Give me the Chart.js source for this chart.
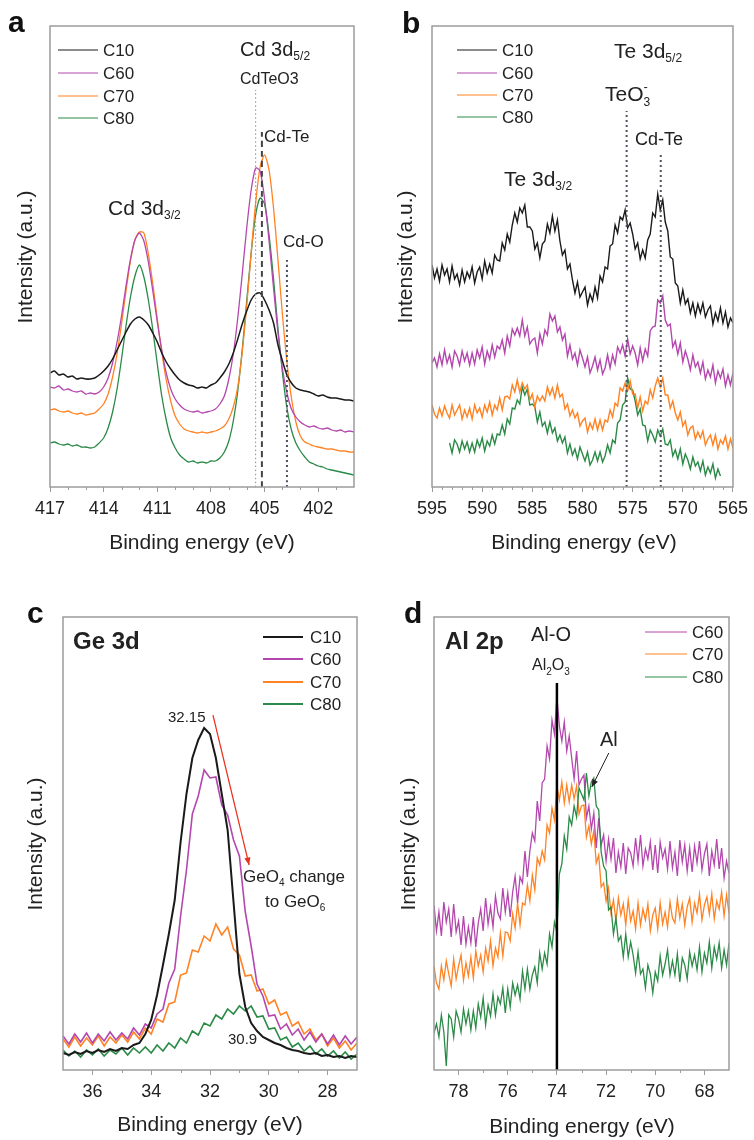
<!DOCTYPE html>
<html>
<head>
<meta charset="utf-8">
<script src="https://cdn.jsdelivr.net/npm/chart.js@4.4.0/dist/chart.umd.min.js"></script>
<style>
  body { margin: 0; background: #fff; width: 754px; height: 1140px; position: relative; overflow: hidden; }
  canvas { position: absolute; }
</style>
</head>
<body>
<canvas id="chartA" width="377" height="560" style="left:0;top:0"></canvas>
<canvas id="chartB" width="377" height="560" style="left:377px;top:0"></canvas>
<canvas id="chartC" width="377" height="580" style="left:0;top:560px"></canvas>
<canvas id="chartD" width="377" height="580" style="left:377px;top:560px"></canvas>
<script>
// ---- panel a: Cd 3d ----
const aEnergy = [417,416.75,416.5,416.25,416,415.75,415.5,415.25,415,414.75,414.5,414.25,414,413.75,413.5,413.25,413,412.75,412.5,412.25,412,411.75,411.5,411.25,411,410.75,410.5,410.25,410,409.75,409.5,409.25,409,408.75,408.5,408.25,408,407.75,407.5,407.25,407,406.75,406.5,406.25,406,405.75,405.5,405.25,405,404.75,404.5,404.25,404,403.75,403.5,403.25,403,402.75,402.5,402.25,402,401.75,401.5,401.25,401,400.75,400.5,400.25,400];
const aC10 = [114,116,112,113,110,111,108,109,108,108,109,112,116,121,128,137,146,155,163,168,170,167,162,154,145,134,125,118,112,107,104,102,101,99,100,99,102,104,109,115,123,134,148,163,176,187,193,194,187,177,164,142,126,112,104,99,97,96,95,93,91,92,90,89,89,88,87,87,86];
const aC60 = [100,99,101,97,98,96,95,96,93,94,93,95,100,109,124,145,171,201,228,247,254,246,225,196,165,137,114,98,88,82,78,76,75,76,74,75,76,78,83,91,108,133,169,213,259,297,319,316,288,246,199,154,118,94,78,70,65,62,60,61,59,58,59,57,56,57,55,56,55];
const aC70 = [77,78,76,75,76,74,73,74,72,73,74,78,83,93,110,133,163,196,226,247,255,254,233,203,168,135,107,86,71,63,58,56,55,54,55,54,55,56,58,61,68,80,100,135,181,234,284,320,332,317,279,227,172,125,89,65,51,45,43,41,40,39,38,38,37,36,36,35,35];
const aC80 = [44,45,43,42,43,41,42,40,40,39,40,44,49,59,75,98,128,161,190,211,222,210,187,157,123,91,67,49,39,32,28,25,26,24,25,24,26,26,29,35,46,66,96,137,186,234,272,289,283,252,208,158,114,79,57,44,36,30,25,23,21,20,18,17,16,15,14,13,12];
const aMajorTicks = [417, 414, 411, 408, 405, 402];
const aMinorTicks = [416, 415, 413, 412, 410, 409, 407, 406, 404, 403, 401];
const aRefEnergy = [405.5, 405.15, 403.75];   // CdTeO3, Cd-Te, Cd-O
const aRefTop = [397, 355, 230];

// ---- panel b: Te 3d ----
const bEnergy = [595,594.75,594.5,594.25,594,593.75,593.5,593.25,593,592.75,592.5,592.25,592,591.75,591.5,591.25,591,590.75,590.5,590.25,590,589.75,589.5,589.25,589,588.75,588.5,588.25,588,587.75,587.5,587.25,587,586.75,586.5,586.25,586,585.75,585.5,585.25,585,584.75,584.5,584.25,584,583.75,583.5,583.25,583,582.75,582.5,582.25,582,581.75,581.5,581.25,581,580.75,580.5,580.25,580,579.75,579.5,579.25,579,578.75,578.5,578.25,578,577.75,577.5,577.25,577,576.75,576.5,576.25,576,575.75,575.5,575.25,575,574.75,574.5,574.25,574,573.75,573.5,573.25,573,572.75,572.5,572.25,572,571.75,571.5,571.25,571,570.75,570.5,570.25,570,569.75,569.5,569.25,569,568.75,568.5,568.25,568,567.75,567.5,567.25,567,566.75,566.5,566.25,566,565.75,565.5,565.25,565];
const bC10 = [222,209,218,206,222,212,218,205,221,208,213,202,217,205,215,209,220,204,215,220,208,226,214,223,214,232,227,226,244,237,253,245,262,274,265,279,274,282,260,260,256,238,244,229,243,246,263,254,271,256,267,246,232,237,218,223,207,194,205,190,195,200,182,193,186,200,189,211,205,220,218,241,243,262,254,270,267,277,259,264,253,238,244,228,237,229,247,253,274,270,293,277,287,265,256,230,228,204,201,184,197,183,188,174,184,171,183,174,184,170,177,181,163,174,166,179,164,175,160,169,164];
const bC60 = [124,129,120,133,122,137,124,132,120,136,131,122,136,126,134,122,134,123,137,129,140,123,136,128,142,130,141,138,147,134,151,141,158,152,159,151,167,151,160,143,147,149,134,153,143,157,152,173,166,171,155,160,147,153,131,142,128,134,122,137,129,120,130,114,121,130,117,127,113,119,132,119,132,123,140,134,142,131,148,133,141,134,122,139,126,138,131,156,160,161,187,184,191,167,161,163,140,146,133,144,125,136,128,117,132,120,125,114,125,108,117,110,122,104,116,109,118,101,112,102,114];
const bC70 = [82,73,69,79,71,81,74,69,82,72,77,82,68,77,70,79,68,82,74,79,70,82,75,85,72,82,77,89,77,90,91,88,102,95,107,95,104,98,102,87,93,80,91,86,91,86,100,92,99,89,102,90,93,78,83,71,77,69,74,61,66,69,55,64,58,68,57,67,57,67,65,77,70,84,81,99,96,104,96,106,93,93,79,90,76,86,83,97,89,101,109,100,109,92,92,79,86,74,67,75,61,66,52,59,61,48,55,49,56,42,48,52,42,52,38,47,43,51,38,48,39];
const bC80 = [null,null,null,null,null,null,null,44,34,47,43,35,46,38,45,35,44,35,47,40,49,36,46,41,52,43,53,52,62,53,68,63,79,78,87,83,100,92,98,82,83,80,65,75,61,65,54,65,54,59,46,52,44,50,34,43,32,38,28,40,33,26,35,22,27,35,26,35,25,31,42,34,47,44,64,67,82,85,109,98,97,86,72,78,62,61,46,57,52,45,57,51,58,43,42,47,31,37,28,38,23,33,27,18,30,21,25,16,26,12,20,14,23,9,18,11,null,null,null,null,null];
const bMajorTicks = [595, 590, 585, 580, 575, 570, 565];
const bMinorTicks = [594,593,592,591,589,588,587,586,584,583,582,581,579,578,577,576,574,573,572,571,569,568,567,566];
const bRefEnergy = [575.6, 572.2];   // TeO3-, Cd-Te
const bRefTop = [376, 335];

// ---- panel c: Ge 3d ----
const cEnergy = [37,36.8,36.6,36.4,36.2,36,35.8,35.6,35.4,35.2,35,34.8,34.6,34.4,34.2,34,33.8,33.6,33.4,33.2,33,32.8,32.6,32.4,32.2,32,31.8,31.6,31.4,31.2,31,30.8,30.6,30.4,30.2,30,29.8,29.6,29.4,29.2,29,28.8,28.6,28.4,28.2,28,27.8,27.6,27.4,27.2,27];
const cC10 = [17,15,18,16,19,17,20,18,21,19,22,21,25,27,36,50,75,105,136,170,228,276,312,330,342,336,312,276,240,168,96,63,47,39,33,30,27,25,22,20,19,17,16,17,14,15,13,14,12,14,13];
const cC60 = [34,26,36,28,37,27,36,29,38,30,37,31,42,35,46,42,56,61,87,101,154,200,256,274,300,292,293,265,255,230,214,158,124,86,74,54,55,41,46,35,41,30,38,28,36,26,35,25,34,26,33];
const cC70 = [31,23,33,24,32,25,34,24,33,27,35,28,38,31,42,36,51,48,66,68,95,97,120,118,134,129,146,135,143,121,115,94,95,79,81,66,70,55,58,44,48,36,41,30,36,24,32,22,29,20,27];
const cC80 = [20,14,19,13,20,15,21,14,20,16,22,15,22,17,23,17,25,19,27,22,32,27,39,35,47,44,55,51,61,56,64,59,64,53,54,41,42,30,33,23,27,19,24,16,21,14,19,12,18,11,16];
const cMajorTicks = [36, 34, 32, 30, 28];
const cMinorTicks = [35, 33, 31, 29];
const cArrow = [[31.9, 355], [30.67, 205]];

// ---- panel d: Al 2p ----
const dEnergy = [79,78.9,78.8,78.7,78.6,78.5,78.4,78.3,78.2,78.1,78,77.9,77.8,77.7,77.6,77.5,77.4,77.3,77.2,77.1,77,76.9,76.8,76.7,76.6,76.5,76.4,76.3,76.2,76.1,76,75.9,75.8,75.7,75.6,75.5,75.4,75.3,75.2,75.1,75,74.9,74.8,74.7,74.6,74.5,74.4,74.3,74.2,74.1,74,73.9,73.8,73.7,73.6,73.5,73.4,73.3,73.2,73.1,73,72.9,72.8,72.7,72.6,72.5,72.4,72.3,72.2,72.1,72,71.9,71.8,71.7,71.6,71.5,71.4,71.3,71.2,71.1,71,70.9,70.8,70.7,70.6,70.5,70.4,70.3,70.2,70.1,70,69.9,69.8,69.7,69.6,69.5,69.4,69.3,69.2,69.1,69,68.9,68.8,68.7,68.6,68.5,68.4,68.3,68.2,68.1,68,67.9,67.8,67.7,67.6,67.5,67.4,67.3,67.2,67.1,67];
const dC60 = [165,139,158,134,168,148,161,133,166,138,149,125,154,126,143,127,153,123,147,161,139,172,146,163,143,174,157,151,182,158,177,153,178,194,167,193,187,219,193,219,237,229,269,249,287,291,324,311,350,336,373,344,329,348,319,334,312,291,319,285,291,295,252,264,241,257,222,252,225,235,209,231,211,232,197,218,203,227,196,222,217,204,232,209,235,204,221,211,228,200,225,197,228,212,221,201,229,202,218,194,230,208,225,199,222,198,224,207,229,200,216,226,194,219,205,231,201,222,192,209,197];
const dC70 = [104,87,81,104,90,109,96,84,111,91,104,115,90,107,94,113,92,119,104,115,98,122,109,129,104,122,113,137,114,138,137,129,156,142,167,145,167,165,185,169,195,180,212,205,219,210,245,237,262,250,284,270,288,267,285,268,285,271,284,256,264,265,233,244,226,239,207,215,183,187,169,182,157,170,149,172,155,166,145,170,149,159,141,167,145,161,150,166,139,155,162,141,167,146,158,143,168,152,147,171,152,166,145,163,172,148,167,157,176,150,165,173,156,176,151,169,161,178,154,175,157];
const dC80 = [37,46,33,55,38,4,55,51,33,59,51,38,61,46,59,40,59,42,66,53,72,45,65,54,76,55,73,66,82,57,81,63,87,75,85,71,99,81,101,81,95,103,87,117,101,117,106,136,123,148,138,196,206,234,221,253,245,264,253,282,276,270,297,274,288,292,264,260,218,204,199,160,163,136,152,129,134,113,136,113,128,115,97,118,96,101,82,105,96,77,98,89,114,95,106,120,95,109,95,116,88,112,105,91,118,104,115,100,123,98,117,107,128,102,123,111,127,102,120,105,127];
const dMajorTicks = [78, 76, 74, 72, 70, 68];
const dMinorTicks = [77, 75, 73, 71, 69];
const dRefEnergy = 74.0;   // Al-O / Al2O3
const dRefTop = 387;
const dArrow = [[71.89, 317], [72.58, 283]];

const FONT = '"Liberation Sans", Arial, Helvetica, sans-serif';
const TEXT = '#222';
const GREY = '#9c9c9c';
const COL = { C10: '#1a1a1a', C60: '#b447ae', C70: '#ff8223', C80: '#2b8a47' };

function series(xs, ys, color, width, order) {
    return {
        data: xs.map((x, i) => ({ x: x, y: ys[i] })).filter(pt => pt.y !== null),
        borderColor: color, borderWidth: width, pointRadius: 0, fill: false, order: order
    };
}

function vline(x, top, color, width, dash) {
    return {
        data: [{ x: x, y: 0 }, { x: x, y: top }],
        borderColor: color, borderWidth: width, borderDash: dash, pointRadius: 0, fill: false, order: 0
    };
}

function segment(pts, color, width) {
    return {
        data: pts.map(p => ({ x: p[0], y: p[1] })),
        borderColor: color, borderWidth: width, pointRadius: 0, fill: false, order: 0
    };
}

// draw a run of text pieces (for sub/superscripts)
function drawRich(ctx, x, y, parts) {
    let cx = x;
    parts.forEach(p => {
        ctx.font = (p.bold ? 'bold ' : '') + p.size + 'px ' + FONT;
        ctx.fillText(p.t, cx, y + (p.dy || 0));
        if (!p.stay) cx += ctx.measureText(p.t).width;
    });
}

function decor(p) {
    return {
        id: 'decor',
        afterDraw(chart) {
            const ctx = chart.ctx;
            const area = chart.chartArea;
            const xs = chart.scales.x, ys = chart.scales.y;
            ctx.save();
            ctx.strokeStyle = GREY;
            ctx.lineWidth = 1.5;
            ctx.strokeRect(area.left, area.top, area.right - area.left, area.bottom - area.top);
            ctx.lineWidth = 1;
            p.minorTicks.forEach(v => {
                const px = Math.round(xs.getPixelForValue(v)) + 0.5;
                ctx.beginPath();
                ctx.moveTo(px, area.bottom);
                ctx.lineTo(px, area.bottom + 3);
                ctx.stroke();
            });

            // arrowheads
            (p.arrows || []).forEach(a => {
                const x0 = xs.getPixelForValue(a.pts[0][0]), y0 = ys.getPixelForValue(a.pts[0][1]);
                const x1 = xs.getPixelForValue(a.pts[1][0]), y1 = ys.getPixelForValue(a.pts[1][1]);
                const ang = Math.atan2(y1 - y0, x1 - x0);
                ctx.fillStyle = a.color;
                ctx.beginPath();
                ctx.moveTo(x1, y1);
                ctx.lineTo(x1 - 8 * Math.cos(ang - 0.4), y1 - 8 * Math.sin(ang - 0.4));
                ctx.lineTo(x1 - 8 * Math.cos(ang + 0.4), y1 - 8 * Math.sin(ang + 0.4));
                ctx.closePath();
                ctx.fill();
            });

            // legend
            const lg = p.legend;
            ctx.textBaseline = 'middle';
            ctx.textAlign = 'left';
            lg.items.forEach((it, i) => {
                const y = lg.rows[i];
                ctx.strokeStyle = it[1];
                ctx.lineWidth = lg.width;
                ctx.beginPath();
                ctx.moveTo(lg.x0, y);
                ctx.lineTo(lg.x1, y);
                ctx.stroke();
                ctx.fillStyle = TEXT;
                ctx.font = '17px ' + FONT;
                ctx.fillText(it[0], lg.tx, y + 1);
            });

            // labels
            ctx.fillStyle = TEXT;
            p.texts.forEach(t => drawRich(ctx, t.x, t.y, t.parts));

            // panel letter
            ctx.textBaseline = 'alphabetic';
            ctx.font = 'bold 30px ' + FONT;
            ctx.fillStyle = '#111';
            ctx.fillText(p.letter[0], p.letter[1], p.letter[2]);

            // axis titles
            ctx.fillStyle = TEXT;
            ctx.font = '21px ' + FONT;
            ctx.textAlign = 'center';
            ctx.textBaseline = 'middle';
            ctx.fillText('Binding energy (eV)', p.xTitle[0], p.xTitle[1]);
            ctx.translate(p.yTitle[0], p.yTitle[1]);
            ctx.rotate(-Math.PI / 2);
            ctx.fillText('Intensity (a.u.)', 0, 0);
            ctx.restore();
        }
    };
}

function makePanel(id, p) {
    return new Chart(document.getElementById(id), {
        type: 'line',
        data: { datasets: p.datasets },
        options: {
            responsive: false,
            animation: false,
            events: [],
            spanGaps: false,
            layout: { padding: { left: p.area.left, top: p.area.top, right: p.width - p.area.right, bottom: 0 } },
            plugins: { legend: { display: false }, tooltip: { enabled: false } },
            elements: { line: { tension: p.tension || 0 } },
            scales: {
                x: {
                    type: 'linear',
                    reverse: true,
                    min: p.xMin,
                    max: p.xMax,
                    afterBuildTicks: axis => { axis.ticks = p.majorTicks.map(v => ({ value: v })); },
                    afterFit: axis => { axis.height = p.height - p.area.bottom; },
                    border: { display: false },
                    grid: { drawOnChartArea: false, drawTicks: true, tickLength: 5, color: GREY, lineWidth: 1 },
                    ticks: {
                        color: TEXT, padding: 6, autoSkip: false, maxRotation: 0,
                        font: { size: 18, family: FONT },
                        callback: v => String(v)
                    }
                },
                y: { type: 'linear', display: false, min: 0, max: p.area.bottom - p.area.top }
            }
        },
        plugins: [decor(p)]
    });
}

makePanel('chartA', {
    width: 377, height: 560,
    area: { left: 50, top: 26, right: 354, bottom: 487 },
    xMin: 400, xMax: 417, tension: 0.25,
    majorTicks: aMajorTicks, minorTicks: aMinorTicks,
    datasets: [
        vline(aRefEnergy[0], aRefTop[0], '#8a8a8a', 1, [1.5, 2.5]),
        vline(aRefEnergy[1], aRefTop[1], '#454545', 2, [6, 4]),
        vline(aRefEnergy[2], aRefTop[2], '#4a5060', 2, [2, 3]),
        series(aEnergy, aC10, COL.C10, 1.5, 1),
        series(aEnergy, aC60, COL.C60, 1.3, 2),
        series(aEnergy, aC70, COL.C70, 1.3, 3),
        series(aEnergy, aC80, COL.C80, 1.3, 4)
    ],
    legend: { x0: 58, x1: 98, tx: 103, width: 1, rows: [50, 73, 96, 118],
        items: [['C10', COL.C10], ['C60', COL.C60], ['C70', COL.C70], ['C80', COL.C80]] },
    texts: [
        { x: 240, y: 50, parts: [{ t: 'Cd 3d', size: 20 }, { t: '5/2', size: 12, dy: 7 }] },
        { x: 240, y: 80, parts: [{ t: 'CdTeO3', size: 16 }] },
        { x: 264, y: 137, parts: [{ t: 'Cd-Te', size: 17 }] },
        { x: 108, y: 209, parts: [{ t: 'Cd 3d', size: 21 }, { t: '3/2', size: 12, dy: 7 }] },
        { x: 283, y: 242, parts: [{ t: 'Cd-O', size: 17 }] }
    ],
    letter: ['a', 8, 32],
    xTitle: [202, 543], yTitle: [26, 257]
});

makePanel('chartB', {
    width: 377, height: 560,
    area: { left: 55, top: 26, right: 360, bottom: 487 },
    xMin: 565, xMax: 595,
    majorTicks: bMajorTicks, minorTicks: bMinorTicks,
    datasets: [
        vline(bRefEnergy[0], bRefTop[0], '#505560', 2, [2, 3]),
        vline(bRefEnergy[1], bRefTop[1], '#505560', 2, [2, 3]),
        series(bEnergy, bC10, COL.C10, 1.4, 1),
        series(bEnergy, bC60, COL.C60, 1.4, 2),
        series(bEnergy, bC70, COL.C70, 1.4, 3),
        series(bEnergy, bC80, COL.C80, 1.4, 4)
    ],
    legend: { x0: 80, x1: 120, tx: 125, width: 1, rows: [50, 73, 95, 117],
        items: [['C10', COL.C10], ['C60', COL.C60], ['C70', COL.C70], ['C80', COL.C80]] },
    texts: [
        { x: 237, y: 52, parts: [{ t: 'Te 3d', size: 21 }, { t: '5/2', size: 12, dy: 7 }] },
        { x: 228, y: 95, parts: [{ t: 'TeO', size: 21 }, { t: '-', size: 13, dy: -8, stay: true }, { t: '3', size: 12, dy: 8 }] },
        { x: 258, y: 140, parts: [{ t: 'Cd-Te', size: 18 }] },
        { x: 127, y: 180, parts: [{ t: 'Te 3d', size: 21 }, { t: '3/2', size: 12, dy: 7 }] }
    ],
    letter: ['b', 25, 33],
    xTitle: [207, 543], yTitle: [29, 257]
});

makePanel('chartC', {
    width: 377, height: 580,
    area: { left: 63, top: 57, right: 357, bottom: 510 },
    xMin: 27, xMax: 37,
    majorTicks: cMajorTicks, minorTicks: cMinorTicks,
    datasets: [
        segment(cArrow, '#e8321e', 1.2),
        series(cEnergy, cC10, COL.C10, 2, 1),
        series(cEnergy, cC60, COL.C60, 1.6, 2),
        series(cEnergy, cC70, COL.C70, 1.6, 3),
        series(cEnergy, cC80, COL.C80, 1.6, 4)
    ],
    arrows: [{ pts: cArrow, color: '#e8321e' }],
    legend: { x0: 263, x1: 303, tx: 310, width: 2, rows: [77, 99, 122, 144],
        items: [['C10', COL.C10], ['C60', COL.C60], ['C70', COL.C70], ['C80', COL.C80]] },
    texts: [
        { x: 73, y: 82, parts: [{ t: 'Ge 3d', size: 24, bold: true }] },
        { x: 168, y: 158, parts: [{ t: '32.15', size: 15 }] },
        { x: 243, y: 317, parts: [{ t: 'GeO', size: 17 }, { t: '4', size: 10, dy: 6 }, { t: ' change', size: 17 }] },
        { x: 265, y: 342, parts: [{ t: 'to GeO', size: 17 }, { t: '6', size: 10, dy: 6 }] },
        { x: 228, y: 480, parts: [{ t: '30.9', size: 15 }] }
    ],
    letter: ['c', 27, 63],
    xTitle: [210, 565], yTitle: [36, 284]
});

makePanel('chartD', {
    width: 377, height: 580,
    area: { left: 57, top: 57, right: 352, bottom: 510 },
    xMin: 67, xMax: 79,
    majorTicks: dMajorTicks, minorTicks: dMinorTicks,
    datasets: [
        vline(dRefEnergy, dRefTop, '#000', 2.5, []),
        segment(dArrow, '#222', 1),
        series(dEnergy, dC60, COL.C60, 1.3, 2),
        series(dEnergy, dC70, COL.C70, 1.3, 3),
        series(dEnergy, dC80, COL.C80, 1.3, 1)
    ],
    arrows: [{ pts: dArrow, color: '#222' }],
    legend: { x0: 268, x1: 310, tx: 315, width: 1, rows: [72, 94, 117],
        items: [['C60', COL.C60], ['C70', COL.C70], ['C80', COL.C80]] },
    texts: [
        { x: 68, y: 82, parts: [{ t: 'Al 2p', size: 24, bold: true }] },
        { x: 154, y: 75, parts: [{ t: 'Al-O', size: 20 }] },
        { x: 155, y: 106, parts: [{ t: 'Al', size: 16 }, { t: '2', size: 10, dy: 6 }, { t: 'O', size: 16 }, { t: '3', size: 10, dy: 6 }] },
        { x: 223, y: 180, parts: [{ t: 'Al', size: 20 }] }
    ],
    letter: ['d', 27, 63],
    xTitle: [205, 567], yTitle: [32, 284]
});
</script>
</body>
</html>
